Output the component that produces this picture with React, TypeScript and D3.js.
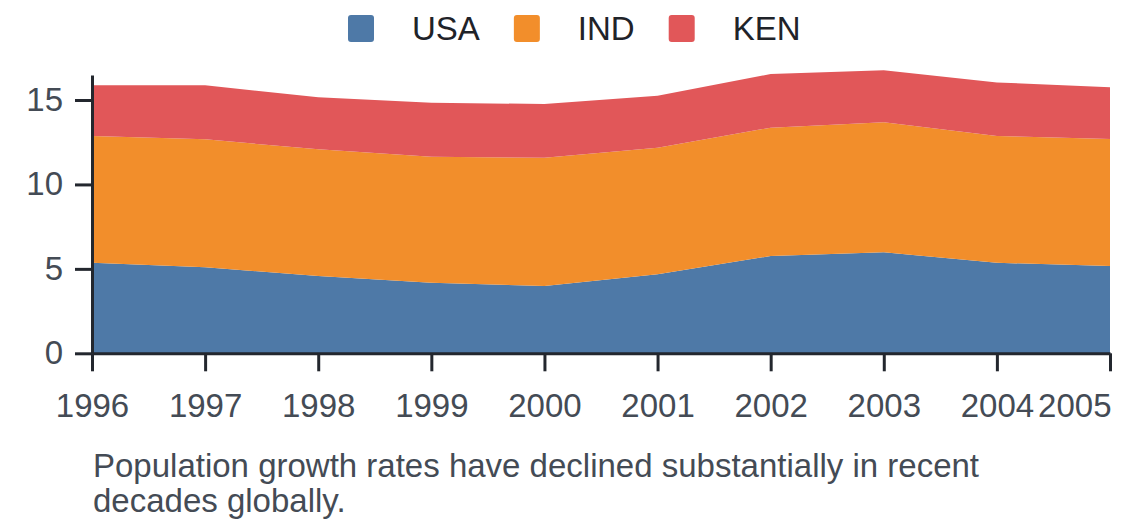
import { useEffect, useRef } from 'react';
import * as d3 from 'd3';

const years = [1996, 1997, 1998, 1999, 2000, 2001, 2002, 2003, 2004, 2005];
const usa = [5.36, 5.09, 4.58, 4.18, 3.98, 4.68, 5.76, 5.98, 5.36, 5.17];
const ind = [7.51, 7.58, 7.5, 7.46, 7.6, 7.49, 7.6, 7.7, 7.51, 7.52];
const ken = [3.0, 3.2, 3.08, 3.2, 3.18, 3.08, 3.18, 3.08, 3.17, 3.06];
const seriesKeys = ['USA', 'IND', 'KEN'];
const colors = ['#4e79a7', '#f28e2b', '#e15759'];
const yTicks = [0, 5, 10, 15];
const caption = [
  'Population growth rates have declined substantially in recent',
  'decades globally.',
];

export default function App() {
  const svgRef = useRef<SVGSVGElement>(null);

  useEffect(() => {
    if (!svgRef.current) return;
    const svg = d3.select(svgRef.current);
    svg.selectAll('*').remove();

    const width = 1140;
    const height = 528;
    const font = '"Liberation Sans", Arial, sans-serif';
    const fs = 33;

    const rows = years.map((y, i) => ({ year: y, USA: usa[i], IND: ind[i], KEN: ken[i] }));
    const stacked = d3.stack<any>().keys(seriesKeys)(rows);

    const x = d3.scaleLinear().domain([1996, 2005]).range([92, 1110]);
    const y = d3.scaleLinear().domain([0, 16.48]).range([353.3, 75]);

    const area = d3
      .area<any>()
      .x((d) => x(d.data.year))
      .y0((d) => y(d[0]))
      .y1((d) => y(d[1]));

    svg
      .append('g')
      .selectAll('path')
      .data(stacked)
      .join('path')
      .attr('d', area)
      .attr('fill', (_, i) => colors[i]);

    // Y axis
    const yAxis = svg
      .append('g')
      .attr('transform', `translate(${x(1996)},0)`)
      .call(d3.axisLeft(y).tickValues(yTicks).tickSize(17).tickPadding(12).tickSizeOuter(0));
    yAxis.select('.domain').attr('stroke', '#23272e').attr('stroke-width', 3);
    yAxis.selectAll('.tick line').attr('stroke', '#23272e').attr('stroke-width', 3);
    yAxis
      .selectAll('.tick text')
      .attr('font-size', fs)
      .attr('font-family', font)
      .attr('fill', '#444b55');

    // X axis
    const xAxis = svg
      .append('g')
      .attr('transform', `translate(0,${y(0)})`)
      .call(
        d3
          .axisBottom(x)
          .tickValues(years)
          .tickFormat(d3.format('d'))
          .tickSize(18)
          .tickPadding(22)
          .tickSizeOuter(0)
      );
    xAxis.select('.domain').attr('stroke', '#23272e').attr('stroke-width', 3);
    xAxis.selectAll('.tick line').attr('stroke', '#23272e').attr('stroke-width', 3);
    xAxis
      .selectAll('.tick text')
      .attr('font-size', fs)
      .attr('font-family', font)
      .attr('fill', '#444b55')
      .attr('text-anchor', (d: any) => (d === 2005 ? 'end' : 'middle'))
      .attr('dx', (d: any) => (d === 2005 ? 1 : 0));

    // Legend
    const legend = svg.append('g').attr('transform', 'translate(348,15)');
    let lx = 0;
    seriesKeys.forEach((k, i) => {
      legend
        .append('rect')
        .attr('x', lx)
        .attr('y', 0)
        .attr('width', 26)
        .attr('height', 27)
        .attr('rx', 3)
        .attr('fill', colors[i]);
      const t = legend
        .append('text')
        .attr('x', lx + 64)
        .attr('y', 25)
        .attr('font-size', fs)
        .attr('font-family', font)
        .attr('fill', '#1f2329')
        .text(k);
      const w = (t.node() as SVGTextElement).getComputedTextLength();
      lx += 64 + w + 34;
    });

    // Caption
    svg
      .append('g')
      .selectAll('text')
      .data(caption)
      .join('text')
      .attr('x', 93)
      .attr('y', (_, i) => 477 + i * 34.5)
      .attr('font-size', fs)
      .attr('font-family', font)
      .attr('fill', '#444b55')
      .text((d) => d);

    svg.attr('width', width).attr('height', height);
  }, []);

  return (
    <div style={{ position: 'absolute', left: 0, top: 0, background: '#fff' }}>
      <svg ref={svgRef} width={1140} height={528} style={{ display: 'block' }} />
    </div>
  );
}
